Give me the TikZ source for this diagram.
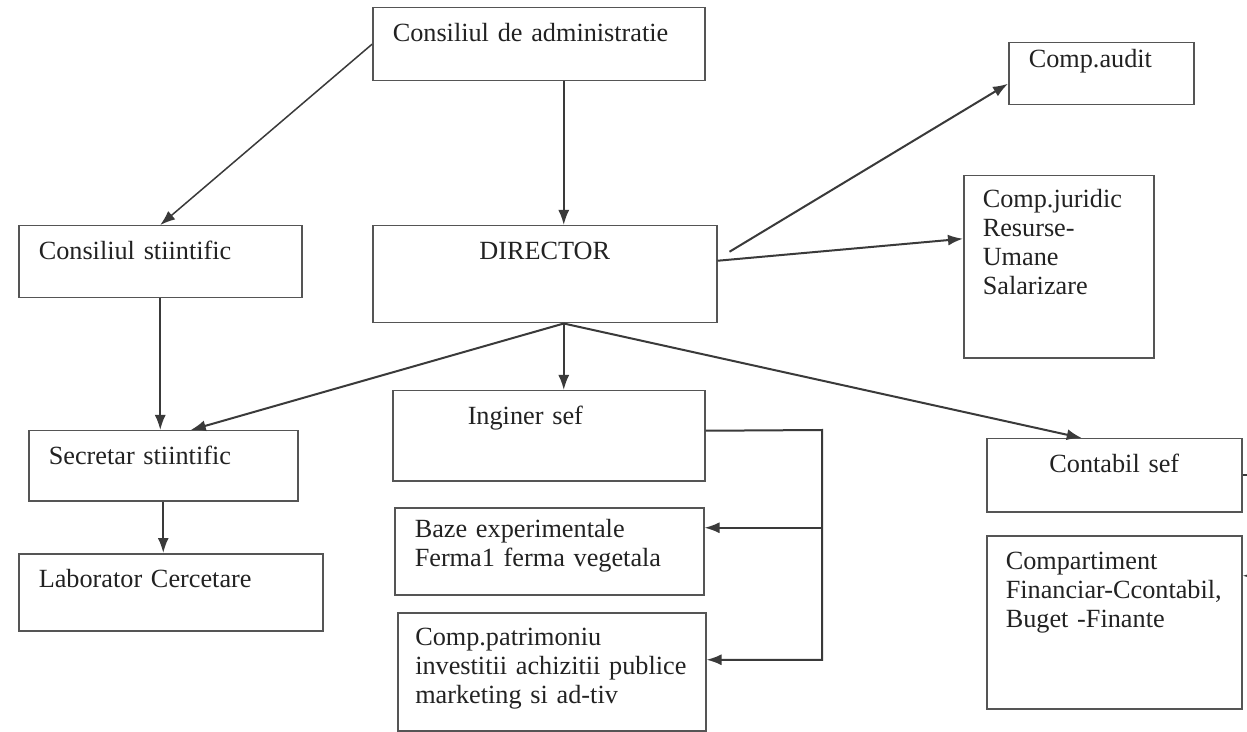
\documentclass[tikz,border=0pt]{standalone}
\usepackage{fontspec}
\setmainfont{Liberation Serif}
\usetikzlibrary{arrows.meta}

\definecolor{inkgray}{HTML}{3A3A3A}
\definecolor{boxgray}{HTML}{555555}
\definecolor{textgray}{HTML}{222222}

\tikzset{
  box/.style={draw=boxgray, line width=0.6pt, anchor=north west, inner xsep=8pt, inner ysep=0pt,
    align=left, text height=13.6pt, text=textgray, font=\fontsize{10.5}{11.6}\selectfont},
  link/.style={->, draw=inkgray, line width=0.8pt}
}

\begin{document}
\begin{tikzpicture}[x=0.4pt, y=-0.4pt, >={Latex[length=6pt, width=4.4pt]}]

\useasboundingbox (0,0) rectangle (1247,732);
\path[fill=white] (0,0) rectangle (1247,732);

\node (cadm) at (372, 7)       [box, text width=116.8pt, text depth=15.6pt] {Consiliul de administratie};
\node (director) at (372, 225) [box, align=center, text width=121.6pt, text depth=25.2pt] {DIRECTOR};
\node (cstiint) at (18, 225)   [box, text width=97.2pt, text depth=15.2pt] {Consiliul stiintific};
\node (secretar) at (28, 430)  [box, text width=91.6pt, text depth=14.4pt] {Secretar stiintific};
\node (labor) at (18, 553)     [box, text width=105.6pt, text depth=17.2pt] {Laborator Cercetare};

\node (inginer) at (392, 390)  [box, inner xsep=30pt, text width=64.8pt, text depth=22.4pt] {Inginer sef};
\node (baze) at (394, 507)     [box, text height=12pt, text width=107.6pt, text depth=22.8pt] {Baze experimentale\\Ferma1 ferma vegetala};
\node (patrim) at (397, 612)   [box, inner xsep=7pt, text height=13.2pt, text width=109.2pt, text depth=34pt] {Comp.patrimoniu\\investitii achizitii publice\\marketing si ad-tiv};

\node (audit) at (1008, 42)    [box, text height=10pt, text width=58pt, text depth=14.8pt] {Comp.audit};
\node (juridic) at (963, 175)  [box, inner xsep=7.6pt, text height=12.8pt, text width=60.8pt, text depth=60pt] {Comp.juridic\\Resurse-\\Umane\\Salarizare};
\node (contabil) at (986, 438) [box, align=center, text width=86pt, text depth=15.6pt] {Contabil sef};
\node (compart) at (986, 535)  [box, inner xsep=7.6pt, text width=86.8pt, text depth=55.6pt] {Compartiment\\Financiar-Ccontabil,\\Buget -Finante};

\coordinate (cadmout) at ([xshift=10pt]cadm.south);
\coordinate (dirout) at ([xshift=7.6pt]director.south);

\draw[link, line width=0.6pt] (cadm.west) -- (cstiint.north);
\draw[link] (cadmout) -- (cadmout |- director.north);

\draw[link] (cstiint.south) -- (cstiint.south |- secretar.north);
\draw[link] (secretar.south) -- (secretar.south |- labor.north);

\draw[link] (dirout) -- ([xshift=11pt]secretar.north);
\draw[link] (dirout) -- (dirout |- inginer.north);
\draw[link] (dirout) -- ([xshift=-13pt]contabil.north);

\draw[link] ([shift={(4.8pt,9pt)}]director.east) -- ([yshift=-4pt]audit.west);
\draw[link] ([yshift=5.4pt]director.east) -- ([yshift=11.2pt]juridic.west);

\coordinate (ibus) at (822, 430);
\coordinate (bazein) at ([yshift=9.4pt]baze.east);
\coordinate (patrimin) at ([yshift=4.8pt]patrim.east);
\draw[link] ([yshift=2pt]inginer.east) -- (ibus) |- (patrimin);
\draw[link] (ibus |- bazein) -- (bazein);

\coordinate (compin) at ([yshift=18.6pt]compart.east);
\draw[link] (contabil.east) -- ++(8pt,0) |- (compin);

\end{tikzpicture}
\end{document}
